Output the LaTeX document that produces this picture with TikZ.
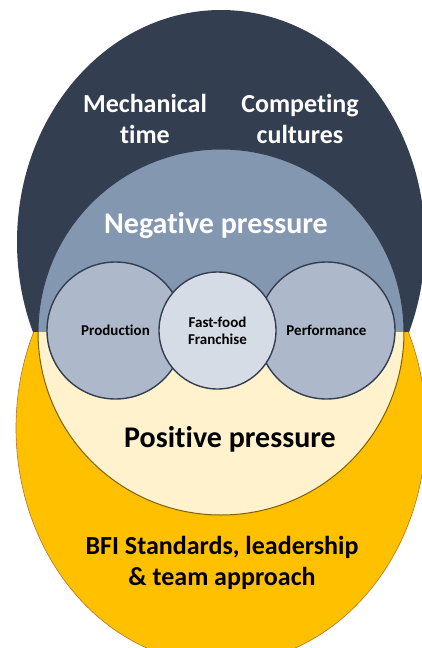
\documentclass[tikz,border=0pt]{standalone}
\usepackage{fontspec}
\setmainfont{Carlito}[Ligatures=NoCommon]
\usepackage{xcolor}
\usepackage{tikz}
\definecolor{navy}{HTML}{333F50}
\definecolor{steel}{HTML}{8497B0}
\definecolor{slate}{HTML}{ADB9CA}
\definecolor{mist}{HTML}{D6DCE5}
\definecolor{amber}{HTML}{FFC000}
\definecolor{cream}{HTML}{FFF2CC}
\definecolor{olive}{HTML}{7F6000}
\definecolor{rim}{HTML}{B4742C}
\tikzset{
  ring/.style={circle, draw=navy, line width=1.4pt, inner sep=0pt, font=\bfseries\fontsize{15}{17}\selectfont, align=center},
  side/.style={ring, fill=slate, minimum size=137pt},
  core/.style={ring, fill=mist, minimum size=117pt},
  big/.style={text=white, font=\bfseries\fontsize{26}{31}\selectfont, align=center, anchor=base},
  head/.style={font=\bfseries\fontsize{30}{36}\selectfont, anchor=base},
}

\begin{document}
\begin{tikzpicture}[x=1pt, y=-1pt]
  \clip (0,0) rectangle (422,648);
  % outer shapes, cut at the centre line
  \begin{scope}
    \clip (0,0) rectangle (422,332);
    \fill[navy] (221,242) ellipse [x radius=204, y radius=232];
    \filldraw[fill=steel, draw=navy, line width=1pt] (221,332) circle [radius=183];
  \end{scope}
  \begin{scope}
    \clip (0,332) rectangle (422,648);
    \filldraw[fill=amber, draw=rim, line width=0.6pt] (221,428) ellipse [x radius=205, y radius=236];
    \filldraw[fill=cream, draw=olive, line width=1pt] (221,332) circle [radius=183];
  \end{scope}
  % labels and the three small circles
  \node[big] (mech) at (145,143) {Mechanical\\time};
  \node[big] (comp) at (300,143) {Competing\\cultures};
  \node[head, text=white] (neg) at (216,233) {Negative pressure};
  \node[side] (prod) at (115.5,330.5) {Production};
  \node[side] (perf) at (326.5,330.5) {Performance};
  \node[core] (fast) at (217.5,330.5) {Fast-food\\Franchise};
  \node[head] (pos) at (230,447) {Positive pressure};
  \node[big, text=black] (bfi) at (222,585) {BFI Standards, leadership\\\& team approach};
\end{tikzpicture}
\end{document}
